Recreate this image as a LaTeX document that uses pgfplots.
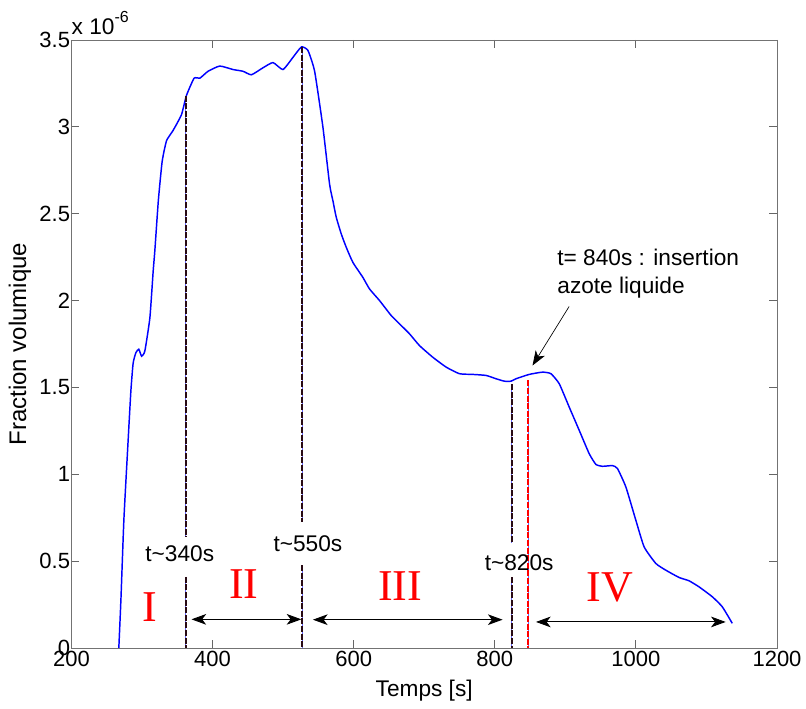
\documentclass[border=0pt]{standalone}
\usepackage{fontspec}
\setmainfont{Liberation Sans}
\newfontfamily\romanfont{Liberation Serif}
\usepackage{pgfplots}
\pgfplotsset{compat=1.18}
\usetikzlibrary{arrows.meta}
\definecolor{darkline}{RGB}{40,10,20}
\newcommand{\txt}{\fontsize{17}{20}\selectfont}
\begin{document}
\begin{tikzpicture}
\begin{axis}[
  name=ax,
  scale only axis,
  width=529.2pt, height=456pt,
  xmin=200, xmax=1200, ymin=0, ymax=3.5,
  xtick={200,400,...,1200},
  ytick={0,0.5,1,1.5,2,2.5,3,3.5},
  tick align=inside,
  major tick length=6pt,
  axis line style={black!55, line width=0.6pt},
  tick style={black!60, line width=0.6pt},
  clip=false,
  font=\fontsize{16.5}{19}\selectfont,
  /pgf/number format/assume math mode=true,
  /pgf/number format/1000 sep={},
  yticklabel style={xshift=2.5pt},
  xticklabel style={yshift=1.5pt},
]
% data in units of 1e-6
\addplot[blue, line width=1.1pt, smooth, tension=0.3] coordinates {
(267.2,0) (270.2,0.28) (274.4,0.74) (280.4,1.195) (284.3,1.48) (287.5,1.64)
(291.4,1.70) (295.5,1.72) (299.5,1.68) (304.1,1.71) (311.2,1.90) (315.9,2.17)
(318.3,2.29) (323.2,2.575) (328.6,2.80) (334.8,2.92) (344.2,2.98) (356,3.07)
(363,3.18) (373.9,3.28) (382,3.28) (393.7,3.32) (410.3,3.35) (429.1,3.33)
(443.2,3.32) (455.1,3.30) (471.5,3.34) (485.7,3.37) (499.8,3.33) (514,3.40)
(525.9,3.46) (535.2,3.44) (544.7,3.32) (556.4,3.0) (565.9,2.67) (570.6,2.575)
(575.4,2.479) (582.5,2.383) (589.6,2.306) (598.9,2.220) (613.0,2.134) (622.5,2.067)
(636.7,2.0) (653.2,1.914) (665.0,1.866) (679.1,1.809) (693.3,1.741) (712.1,1.674)
(731.1,1.617) (749.9,1.579) (768.7,1.575) (787.7,1.569) (801.8,1.550) (813.6,1.536)
(823,1.536) (830.1,1.550) (848.9,1.575) (867.7,1.588) (879.6,1.579) (891.4,1.521)
(905.5,1.387) (919.7,1.253) (933.8,1.119) (943.3,1.057) (952.7,1.046) (966.8,1.050)
(973.9,1.033) (985.8,0.927) (999.9,0.736) (1011.7,0.582) (1028.2,0.487) (1042.4,0.448)
(1061.2,0.406) (1075.3,0.387) (1089.5,0.352) (1108.3,0.295) (1122.5,0.237) (1136.6,0.142)
};
% vertical markers (blue under, dark dashed over)
\addplot[blue!60, line width=0.8pt] coordinates {(362,3.18) (362,0.64)};
\addplot[blue!60, line width=0.8pt] coordinates {(362,0.41) (362,0)};
\addplot[darkline, line width=1.2pt, dash pattern=on 4.5pt off 1.2pt] coordinates {(362,3.18) (362,0.64)};
\addplot[darkline, line width=1.2pt, dash pattern=on 4.5pt off 1.2pt] coordinates {(362,0.41) (362,0)};
\addplot[blue!60, line width=0.8pt] coordinates {(527,3.46) (527,0.726)};
\addplot[blue!60, line width=0.8pt] coordinates {(527,0.477) (527,0)};
\addplot[darkline, line width=1.2pt, dash pattern=on 4.5pt off 1.2pt] coordinates {(527,3.46) (527,0.726)};
\addplot[darkline, line width=1.2pt, dash pattern=on 4.5pt off 1.2pt] coordinates {(527,0.477) (527,0)};
\addplot[blue!60, line width=0.8pt] coordinates {(824,1.52) (824,0.603)};
\addplot[blue!60, line width=0.8pt] coordinates {(824,0.408) (824,0)};
\addplot[darkline, line width=1.2pt, dash pattern=on 4.5pt off 1.2pt] coordinates {(824,1.52) (824,0.603)};
\addplot[darkline, line width=1.2pt, dash pattern=on 4.5pt off 1.2pt] coordinates {(824,0.408) (824,0)};
\addplot[blue!60, line width=0.8pt] coordinates {(847.5,1.54) (847.5,0)};
\addplot[red, line width=1.2pt, dash pattern=on 4.5pt off 1.2pt] coordinates {(847.5,1.54) (847.5,0)};
% double arrows
\draw[black, line width=0.7pt, {Stealth[length=11pt,width=8pt,inset=3pt]}-{Stealth[length=11pt,width=8pt,inset=3pt]}]
  (axis cs:370.2,0.165) -- (axis cs:525.9,0.165);
\draw[black, line width=0.7pt, {Stealth[length=11pt,width=8pt,inset=3pt]}-{Stealth[length=11pt,width=8pt,inset=3pt]}]
  (axis cs:542.3,0.163) -- (axis cs:811.1,0.163);
\draw[black, line width=0.7pt, {Stealth[length=11pt,width=8pt,inset=3pt]}-{Stealth[length=11pt,width=8pt,inset=3pt]}]
  (axis cs:858.4,0.15) -- (axis cs:1127.3,0.15);
% annotation arrow
\draw[black, line width=0.5pt, -{Stealth[length=11pt,width=8pt,inset=3pt]}]
  (axis cs:905.4,1.966) -- (axis cs:853.5,1.626);
\node[anchor=base west, inner sep=0pt] at (axis cs:888.4,2.201) {\txt t= 840s : insertion};
\node[anchor=base west, inner sep=0pt] at (axis cs:888.4,2.038) {\txt azote liquide};
% time labels
\node[anchor=base, inner sep=0pt] at (axis cs:353.6,0.496) {\txt t\textasciitilde 340s};
\node[anchor=base, inner sep=0pt] at (axis cs:535.2,0.553) {\txt t\textasciitilde 550s};
\node[anchor=base, inner sep=0pt] at (axis cs:834.6,0.448) {\txt t\textasciitilde 820s};
% roman numerals
\node[anchor=base, inner sep=0pt, text=red] at (axis cs:310.7,0.151) {\romanfont\fontsize{33}{36}\selectfont I};
\node[anchor=base, inner sep=0pt, text=red] at (axis cs:444.5,0.286) {\romanfont\fontsize{33}{36}\selectfont II};
\node[anchor=base, inner sep=0pt, text=red] at (axis cs:666,0.276) {\romanfont\fontsize{33}{36}\selectfont III};
\node[anchor=base, inner sep=0pt, text=red] at (axis cs:963.3,0.266) {\romanfont\fontsize{33}{36}\selectfont IV};
% labels
\node[anchor=base west, inner sep=0pt] at ([yshift=4.3pt]rel axis cs:0,1) {\txt x 10\raisebox{0.5em}{\fontsize{12}{14}\selectfont -6}};
\node[rotate=90, anchor=center, inner sep=0pt] at ([xshift=-38.6pt]rel axis cs:0,0.5) {\fontsize{18}{21}\selectfont Fraction volumique};
\node[anchor=base, inner sep=0pt] at ([yshift=-36.5pt]rel axis cs:0.5,0) {\txt Temps [s]};
\end{axis}
\pgfresetboundingbox
\path[use as bounding box] ([shift={(-53.55pt,-45pt)}]ax.south west) rectangle ([shift={(21.75pt,30pt)}]ax.north east);
\end{tikzpicture}
\end{document}
